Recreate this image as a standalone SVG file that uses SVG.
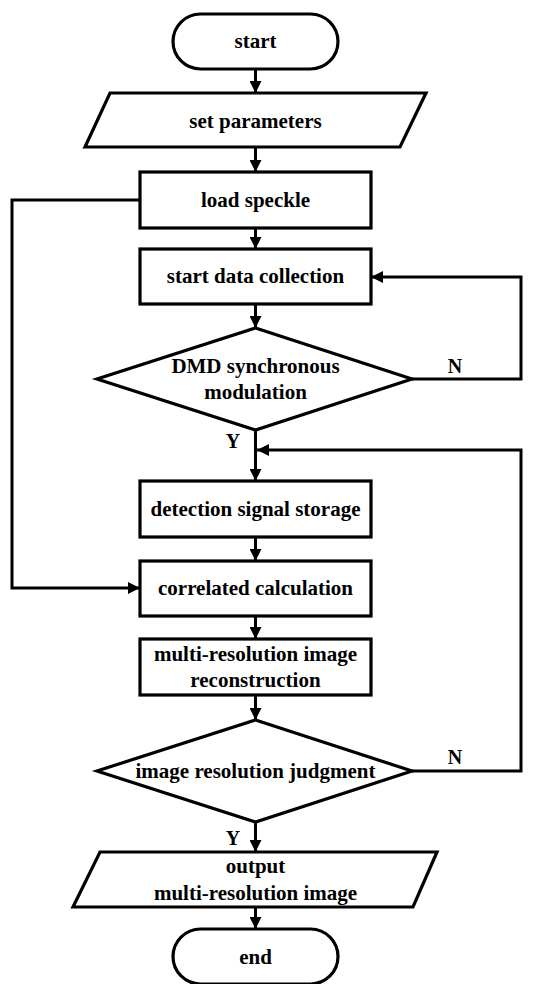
<svg xmlns="http://www.w3.org/2000/svg" width="550" height="984" viewBox="0 0 550 984">
  <defs>
    <marker id="arrow" viewBox="0 0 12 12" refX="12" refY="6" markerWidth="12" markerHeight="12" markerUnits="userSpaceOnUse" orient="auto">
      <path d="M0,0 L12,6 L0,12 Z" fill="#000"/>
    </marker>
    <style>
      .shape { fill: #fff; stroke: #000; stroke-width: 3.2; stroke-linejoin: miter; }
      .link { fill: none; stroke: #000; stroke-width: 3; marker-end: url(#arrow); }
      text { font-family: "Liberation Serif", "Times New Roman", serif; font-weight: bold; font-size: 21px; fill: #000; text-anchor: middle; dominant-baseline: central; }
      .lbl { font-size: 20px; }
    </style>
  </defs>
  <rect width="550" height="984" fill="#fff"/>

  <!-- connectors -->
  <g id="connectors">
    <path class="link" d="M255.5,69 V93"/>
    <path class="link" d="M255.5,147 V172"/>
    <path class="link" d="M255.5,228 V249"/>
    <path class="link" d="M255.5,304 V328"/>
    <path class="link" d="M255.5,430 V481"/>
    <path class="link" d="M255.5,537 V561"/>
    <path class="link" d="M255.5,616 V639"/>
    <path class="link" d="M255.5,695 V720"/>
    <path class="link" d="M255.5,822 V852"/>
    <path class="link" d="M255.5,907 V929"/>
    <!-- load speckle to correlated calculation -->
    <path class="link" d="M140,200 H12 V588 H140"/>
    <!-- N branch of DMD check back to data collection -->
    <path class="link" d="M412,379 H521 V277 H371"/>
    <!-- N branch of resolution check back to storage -->
    <path class="link" d="M412,771 H521 V450 H257"/>
    <text class="lbl" x="455" y="366">N</text>
    <text class="lbl" x="233" y="441">Y</text>
    <text class="lbl" x="455" y="757">N</text>
    <text class="lbl" x="233" y="838">Y</text>
  </g>

  <g id="start">
    <rect class="shape" x="173" y="14" width="165" height="55" rx="27.5"/>
    <text x="255.5" y="41">start</text>
  </g>
  <g id="set-parameters">
    <path class="shape" d="M110,93 H426 L400,147 H85 Z"/>
    <text x="255.5" y="121">set parameters</text>
  </g>
  <g id="load-speckle">
    <rect class="shape" x="140" y="172" width="231" height="56"/>
    <text x="255.5" y="200">load speckle</text>
  </g>
  <g id="start-data-collection">
    <rect class="shape" x="140" y="249" width="231" height="55"/>
    <text x="255.5" y="276">start data collection</text>
  </g>
  <g id="dmd-modulation">
    <path class="shape" d="M255.5,328 L412,379 L255.5,430 L97,379 Z"/>
    <text x="255.5" y="366">DMD synchronous</text>
    <text x="255.5" y="392">modulation</text>
  </g>
  <g id="detection-signal-storage">
    <rect class="shape" x="140" y="481" width="231" height="56"/>
    <text x="255.5" y="509">detection signal storage</text>
  </g>
  <g id="correlated-calculation">
    <rect class="shape" x="140" y="561" width="231" height="55"/>
    <text x="255.5" y="588">correlated calculation</text>
  </g>
  <g id="reconstruction">
    <rect class="shape" x="140" y="639" width="231" height="56"/>
    <text x="255.5" y="654">multi-resolution image</text>
    <text x="255.5" y="680">reconstruction</text>
  </g>
  <g id="resolution-judgment">
    <path class="shape" d="M255.5,720 L412,771 L255.5,822 L97,771 Z"/>
    <text x="255.5" y="771">image resolution judgment</text>
  </g>
  <g id="output">
    <path class="shape" d="M100,852 H437 L413,907 H73 Z"/>
    <text x="255.5" y="866">output</text>
    <text x="255.5" y="893">multi-resolution image</text>
  </g>
  <g id="end">
    <rect class="shape" x="173" y="929" width="165" height="55" rx="27.5"/>
    <text x="255.5" y="957">end</text>
  </g>
</svg>
